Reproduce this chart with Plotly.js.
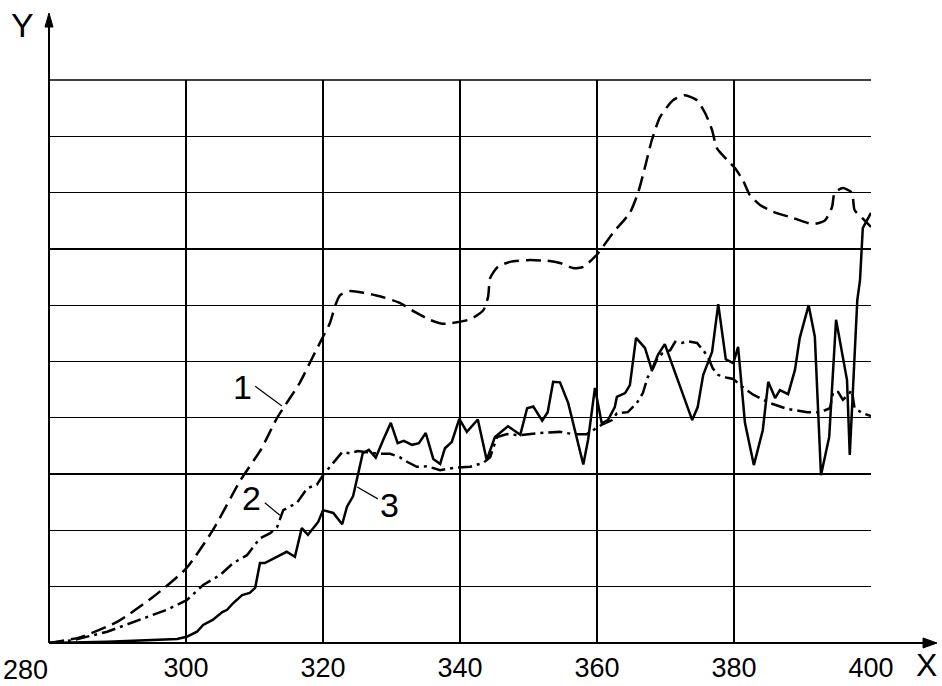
<!DOCTYPE html>
<html><head><meta charset="utf-8">
<script src="https://cdn.plot.ly/plotly-3.0.1.min.js"></script>
<style>html,body{margin:0;padding:0;background:#fff}#chart{width:942px;height:686px}</style>
</head><body><div id="chart"></div>
<script>
// X tick labels
const xTicks = [280, 300, 320, 340, 360, 380, 400];

// Curve 1 (dashed)
const x1 = [280, 284.5, 290, 295, 300, 303.9, 307.9, 311, 313.3, 316.6, 318.5, 320, 321, 321.8, 322.5, 323.9, 326, 328.3, 331.2, 333.4, 335.6, 337.5, 341.5, 343.4, 344.1, 344.4, 345.5, 347.3, 349.8, 352.7, 354.6, 356.5, 358, 360, 362.3, 364.8, 366, 367, 368, 369.2, 371.1, 372.8, 374.6, 375.8, 376.8, 377.5, 379, 380.1, 381.3, 382.3, 383.8, 385.7, 388.6, 391.5, 393.3, 394.3, 394.7, 395.9, 397.2, 397.6, 398.7, 400];
const y1 = [0, 0.1, 0.38, 0.8, 1.32, 2.0, 2.88, 3.45, 4.0, 4.62, 5.08, 5.44, 5.68, 6.0, 6.18, 6.25, 6.22, 6.16, 6.04, 5.88, 5.74, 5.67, 5.75, 5.91, 6.15, 6.48, 6.68, 6.77, 6.8, 6.79, 6.75, 6.66, 6.68, 6.9, 7.28, 7.64, 8.0, 8.45, 8.93, 9.34, 9.64, 9.73, 9.64, 9.41, 9.11, 8.79, 8.58, 8.44, 8.22, 7.96, 7.78, 7.66, 7.55, 7.44, 7.51, 7.74, 8.0, 8.08, 8.0, 7.69, 7.55, 7.39];

// Curve 2 (dash-dot)
const x2 = [280, 283.5, 288.5, 293.3, 297.2, 300.1, 302.5, 305, 306.9, 308.9, 310.8, 312.3, 313.3, 314.2, 316.2, 317.7, 319.1, 320, 321.5, 322.8, 323.9, 325.1, 326.4, 328, 329.8, 331.2, 332.4, 333.7, 335.2, 337.1, 339, 341.5, 343.4, 344.4, 345.4, 346.9, 348.8, 351.7, 354.6, 356.5, 358.5, 360, 360.9, 362.2, 362.9, 364.5, 365.8, 366.7, 367.4, 368.2, 368.9, 369.6, 370.7, 371.4, 372.4, 373.3, 374.6, 375.5, 376.2, 376.9, 377.7, 379, 379.9, 380.9, 382.8, 385.3, 387.7, 390.7, 392.6, 394, 394.5, 395.2, 395.9, 396.6, 397.2, 397.6, 398.8, 400];
const y2 = [0, 0.05, 0.2, 0.41, 0.59, 0.76, 1.03, 1.21, 1.42, 1.56, 1.86, 1.95, 2.06, 2.36, 2.49, 2.75, 2.81, 2.98, 3.2, 3.39, 3.37, 3.41, 3.39, 3.36, 3.36, 3.3, 3.21, 3.13, 3.14, 3.07, 3.11, 3.13, 3.2, 3.3, 3.66, 3.71, 3.69, 3.73, 3.75, 3.71, 3.71, 3.82, 3.89, 3.96, 4.08, 4.1, 4.26, 4.44, 4.72, 4.88, 5.08, 5.15, 5.2, 5.35, 5.33, 5.36, 5.33, 5.2, 5.08, 4.88, 4.76, 4.71, 4.69, 4.58, 4.41, 4.26, 4.16, 4.1, 4.1, 4.17, 4.46, 4.46, 4.32, 4.4, 4.49, 4.17, 4.08, 4.03];

// Curve 3 (solid)
const x3 = [280, 288.5, 298.7, 300.1, 301.6, 302.5, 303.9, 305.3, 306, 306.9, 308.2, 309.3, 310.1, 310.8, 311.5, 313.3, 314.7, 315.9, 316.9, 317.8, 319.3, 320, 321.5, 322.8, 323.5, 324.4, 325.1, 325.8, 326.7, 327.7, 328.8, 329.9, 330.9, 331.8, 333, 334, 335, 336.1, 337.1, 337.8, 338.8, 339.9, 341, 342.6, 343.9, 345.1, 347, 348.8, 349.8, 350.7, 352, 352.8, 353.6, 354.6, 355.8, 358, 358.7, 359.7, 360.7, 361.6, 362.6, 362.9, 364.1, 364.8, 365.7, 367, 368, 368.9, 369.9, 373.9, 374.7, 375.5, 376.8, 377.7, 378.8, 379.9, 380.6, 381.6, 382.9, 384.2, 385, 386, 386.7, 387.9, 388.9, 389.6, 390.9, 391.8, 392.7, 393.9, 394.9, 395.8, 396.5, 396.9, 397.4, 398, 398.4, 398.8, 400];
const y3 = [0, 0.02, 0.07, 0.11, 0.2, 0.32, 0.41, 0.55, 0.59, 0.71, 0.85, 0.89, 0.98, 1.42, 1.42, 1.53, 1.62, 1.53, 2.04, 1.92, 2.15, 2.36, 2.31, 2.11, 2.42, 2.61, 2.98, 3.37, 3.43, 3.29, 3.61, 3.91, 3.55, 3.59, 3.52, 3.55, 3.73, 3.27, 3.18, 3.46, 3.57, 3.98, 3.75, 3.97, 3.25, 3.66, 3.85, 3.7, 4.17, 4.2, 3.95, 4.1, 4.64, 4.63, 4.26, 3.17, 3.61, 4.53, 3.9, 3.96, 4.19, 4.37, 4.44, 4.58, 5.42, 5.24, 4.85, 5.12, 5.31, 3.96, 4.19, 4.76, 5.17, 6.02, 5.04, 4.97, 5.26, 3.91, 3.16, 3.78, 4.64, 4.35, 4.49, 4.42, 4.85, 5.42, 6.0, 5.44, 2.98, 3.66, 5.74, 5.15, 4.67, 3.34, 4.49, 6.09, 6.45, 7.37, 7.64];

const W = 2.5;
const traces = [
  {x: x1, y: y1, mode: 'lines', line: {color: '#000', width: W, dash: '15px,7px', shape: 'spline', smoothing: 0.6}, hoverinfo: 'skip'},
  {x: x2, y: y2, mode: 'lines', line: {color: '#000', width: W, dash: '14px,5px,3px,5px'}, hoverinfo: 'skip'},
  {x: x3, y: y3, mode: 'lines', line: {color: '#000', width: W}, hoverinfo: 'skip'}
];

const tickFont = {family: 'Liberation Sans Narrow, Arial Narrow, Liberation Sans, sans-serif', size: 27, color: '#000'};
const lf = {family: 'Liberation Sans, Arial, sans-serif', size: 34, color: '#000'};
const layout = {
  width: 942, height: 686,
  margin: {l: 49, r: 71, t: 80, b: 43, pad: 0},
  paper_bgcolor: '#fff', plot_bgcolor: '#fff',
  showlegend: false,
  xaxis: {range: [280, 400], tickvals: xTicks, ticktext: xTicks.map((v, i) => i === 0 ? '' : String(v)), showgrid: true, gridcolor: '#000', gridwidth: 1.3,
    zeroline: false, showline: false, ticks: '', fixedrange: true, ticklabelstandoff: 6,
    tickfont: tickFont},
  yaxis: {range: [0, 10], dtick: 1, showgrid: true, gridcolor: '#000', gridwidth: 1.3, zeroline: false, showline: false,
    showticklabels: false, ticks: '', fixedrange: true},
  shapes: [
    {type: 'line', xref: 'paper', yref: 'paper', x0: 0, x1: 1, y0: 1, y1: 1, line: {color: '#000', width: 1.3}},
    {type: 'line', xref: 'paper', yref: 'paper', x0: 0, x1: 1.066, y0: 0, y1: 0, line: {color: '#000', width: 2}},
    {type: 'line', xref: 'paper', yref: 'paper', x0: 0, x1: 0, y0: 0, y1: 1.097, line: {color: '#000', width: 2}},
    {type: 'path', xref: 'paper', yref: 'paper', path: 'M 1.0803 0 L 1.0633 0.0089 L 1.0633 -0.0089 Z', fillcolor: '#000', line: {color: '#000', width: 1}},
    {type: 'path', xref: 'paper', yref: 'paper', path: 'M 0 1.119 L -0.0049 1.0941 L 0.0049 1.0941 Z', fillcolor: '#000', line: {color: '#000', width: 1}},
    {type: 'line', xref: 'x', yref: 'y', x0: 310.1, y0: 4.56, x1: 314.0, y1: 4.21, line: {color: '#000', width: 1.2}},
    {type: 'line', xref: 'x', yref: 'y', x0: 311.5, y0: 2.49, x1: 313.7, y1: 2.27, line: {color: '#000', width: 1.2}},
    {type: 'line', xref: 'x', yref: 'y', x0: 325.0, y0: 2.77, x1: 328.0, y1: 2.56, line: {color: '#000', width: 1.2}}
  ],
  annotations: [
    {x: 308.3, y: 4.55, xref: 'x', yref: 'y', text: '1', showarrow: false, font: lf, xanchor: 'center', yanchor: 'middle'},
    {x: 309.6, y: 2.58, xref: 'x', yref: 'y', text: '2', showarrow: false, font: lf, xanchor: 'center', yanchor: 'middle'},
    {x: 329.7, y: 2.45, xref: 'x', yref: 'y', text: '3', showarrow: false, font: lf, xanchor: 'center', yanchor: 'middle'},
    {x: (25 - 49) / 822, y: (643 - 670) / 563, xref: 'paper', yref: 'paper', text: String(xTicks[0]), showarrow: false, font: tickFont, xanchor: 'center', yanchor: 'middle'},
    {x: (22 - 49) / 822, y: (643 - 25) / 563, xref: 'paper', yref: 'paper', text: 'Y', showarrow: false, font: {family: 'Liberation Sans, Arial, sans-serif', size: 34, color: '#000'}, xanchor: 'center', yanchor: 'middle'},
    {x: (927 - 49) / 822, y: (643 - 665) / 563, xref: 'paper', yref: 'paper', text: 'X', showarrow: false, font: {family: 'Liberation Sans, Arial, sans-serif', size: 32, color: '#000'}, xanchor: 'center', yanchor: 'middle'}
  ]
};
Plotly.newPlot('chart', traces, layout, {staticPlot: true, displayModeBar: false});
</script></body></html>
